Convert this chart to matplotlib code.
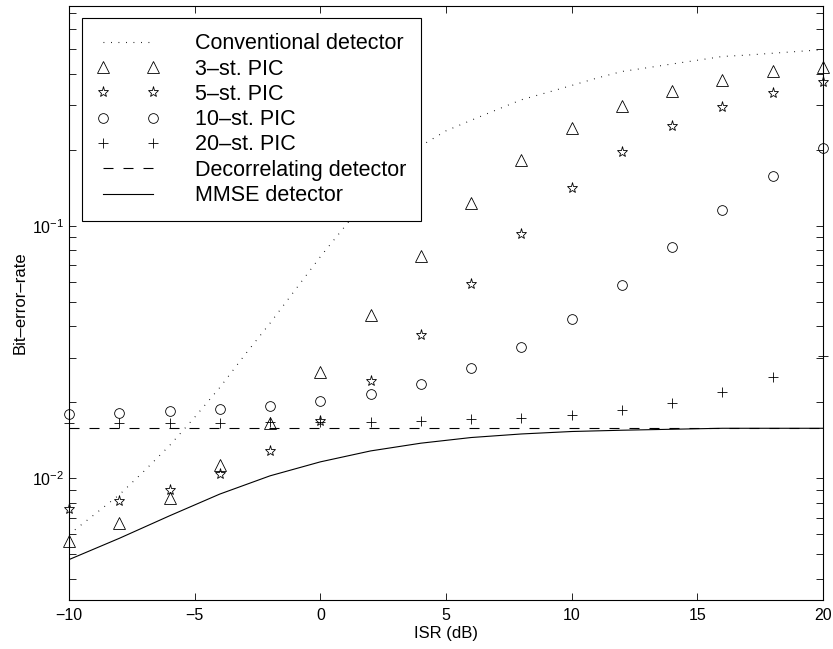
import matplotlib
matplotlib.use("Agg")
import matplotlib.pyplot as plt
import numpy as np

plt.rcParams['font.family'] = ['Liberation Sans', 'DejaVu Sans']
plt.rcParams['mathtext.fontset'] = 'custom'
plt.rcParams['mathtext.rm'] = 'Liberation Sans'
plt.rcParams['mathtext.it'] = 'Liberation Sans:italic'
plt.rcParams['mathtext.bf'] = 'Liberation Sans:bold'
plt.rcParams['lines.scale_dashes'] = False

# ISR grid of the simulated points (dB)
isr_pts = [-10, -8, -6, -4, -2, 0, 2, 4, 6, 8, 10, 12, 14, 16, 18, 20]
pic3 = [0.00567, 0.00666, 0.00834, 0.01129, 0.01654, 0.02648, 0.0443, 0.0758,
        0.1233, 0.1828, 0.2453, 0.2989, 0.3436, 0.3786, 0.411, 0.4275]
pic5 = [0.00756, 0.00811, 0.00901, 0.0104, 0.01285, 0.01695, 0.02424, 0.03684,
        0.05899, 0.0932, 0.1413, 0.1954, 0.2491, 0.297, 0.3373, 0.3728]
pic10 = [0.01807, 0.01824, 0.01845, 0.01879, 0.01931, 0.02021, 0.0216, 0.02374,
         0.0273, 0.03325, 0.04273, 0.05824, 0.0823, 0.1160, 0.158, 0.2034]
pic20 = [0.01665, 0.01665, 0.01665, 0.01665, 0.01672, 0.01678, 0.0168, 0.01689,
         0.01716, 0.01742, 0.01784, 0.01867, 0.0199, 0.02199, 0.0252, 0.03051]
mmse = [0.00477, 0.00579, 0.00711, 0.00867, 0.01024, 0.01163, 0.01285, 0.01379,
        0.01452, 0.0150, 0.01534, 0.01552, 0.01566, 0.0158, 0.0158, 0.0158]
decorr = [0.0158] * len(isr_pts)

# conventional detector curve, 1 dB steps
isr_conv = list(range(-10, 21))
conv = [0.0060, 0.00718, 0.00861, 0.01072, 0.01349, 0.01746, 0.02291, 0.0309,
        0.0412, 0.0558, 0.0755, 0.1002, 0.132, 0.170, 0.2075, 0.238, 0.262,
        0.288, 0.316, 0.337, 0.360, 0.385, 0.409, 0.423, 0.438, 0.453, 0.469,
        0.475, 0.483, 0.491, 0.499]

fig = plt.figure(figsize=(8.33, 6.49), dpi=100)
ax = fig.add_axes([0.0828, 0.0755, 0.9052, 0.9157])

mk = dict(linestyle='none', color='k', markerfacecolor='none',
          markeredgewidth=0.6, clip_on=False)
ax.plot(isr_conv, conv, color='k', linestyle=(0, (0.6, 4.8)), linewidth=0.8,
        label='Conventional detector')
ax.plot(isr_pts, pic3, marker='^', markersize=8, label='3–st. PIC', **mk)
ax.plot(isr_pts, pic5, marker='*', markersize=8, label='5–st. PIC', **mk)
ax.plot(isr_pts, pic10, marker='o', markersize=7, label='10–st. PIC', **mk)
ax.plot(isr_pts, pic20, marker='+', markersize=7, label='20–st. PIC', **mk)
ax.plot(isr_pts, decorr, color='k', linestyle=(0, (7.2, 7.2)), linewidth=0.8,
        label='Decorrelating detector')
ax.plot(isr_pts, mmse, color='k', linestyle='-', linewidth=0.8,
        label='MMSE detector')

ax.set_yscale('log')
ax.set_xlim(-10, 20)
ax.set_ylim(0.0033, 0.745)
ax.set_xticks([-10, -5, 0, 5, 10, 15, 20])
ax.tick_params(which='both', direction='in', top=True, right=True,
               length=5, width=0.6, labelsize=11.5)
ax.tick_params(axis='x', pad=6)
for s in ax.spines.values():
    s.set_linewidth(0.8)

ax.set_xlabel('ISR (dB)', fontsize=12, labelpad=2)
ax.set_ylabel('Bit–error–rate', fontsize=12, labelpad=3)

leg = ax.legend(loc='upper left', bbox_to_anchor=(0.0172, 0.979),
                borderaxespad=0, numpoints=2, fontsize=15.5,
                handlelength=2.88, handletextpad=1.65, labelspacing=0.2,
                borderpad=0.7, fancybox=False, framealpha=1, edgecolor='k')
leg.get_frame().set_linewidth(0.8)

fig.savefig('out.png', dpi=100)
